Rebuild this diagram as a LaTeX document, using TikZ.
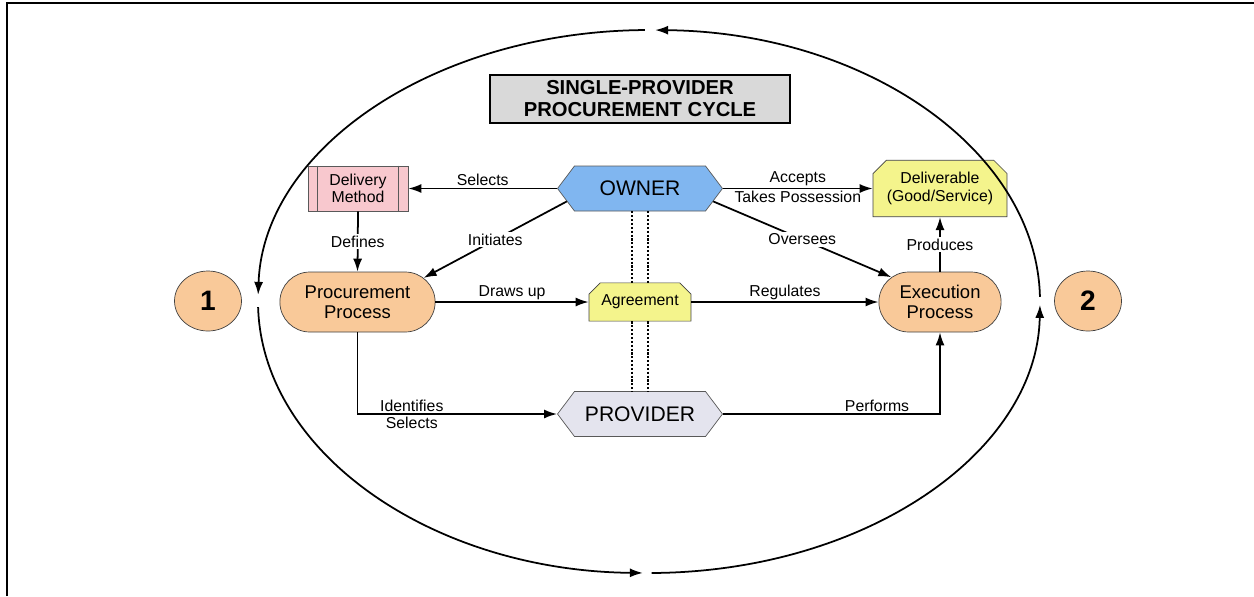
\documentclass[tikz,border=0pt]{standalone}
\usepackage{fontspec}
\setmainfont{Liberation Sans}
\usepackage{xcolor}
\usetikzlibrary{shapes,arrows.meta}
\definecolor{peach}{RGB}{249,201,153}
\definecolor{skyblue}{RGB}{128,182,240}
\definecolor{lemon}{RGB}{244,244,140}
\definecolor{blush}{RGB}{248,200,206}
\definecolor{lavender}{RGB}{228,228,238}
\definecolor{titlegray}{RGB}{217,217,217}

\begin{document}
\begin{tikzpicture}[x=0.02cm, y=0.02cm, >={Latex[length=2.6mm,width=1.8mm]},
  lbl/.style={font=\fontsize{9}{10}\selectfont, inner sep=1pt},
  flow/.style={line width=1pt, ->},
  procbox/.style={rounded rectangle, draw=black!75, fill=peach, minimum height=1.2cm, align=center, font=\fontsize{10.5}{11.5}\selectfont},
  hexbox/.style={signal, signal to=east and west, signal pointer angle=106, draw=black!65, minimum width=3.3cm, minimum height=0.9cm, font=\fontsize{12}{14}\selectfont},
  notebox/.style={chamfered rectangle, chamfered rectangle corners={north west,north east}, draw=black!75, fill=lemon, align=center, font=\fontsize{9}{10}\selectfont},
  numcirc/.style={ellipse, draw=black!75, fill=peach, minimum width=1.34cm, minimum height=1.2cm, font=\bfseries\fontsize{16}{18}\selectfont}]
\useasboundingbox (0,0) rectangle (1254,-596);
\draw[line width=1.1pt] (7,-596) -- (7,-3) -- (1254,-3);
\node[draw, line width=1.1pt, fill=titlegray, minimum width=6cm, minimum height=0.92cm, align=center, font=\bfseries\fontsize{11.5}{12.5}\selectfont] (title) at (640,-99) {SINGLE-PROVIDER\\PROCUREMENT CYCLE};
\node[draw=black!65, fill=blush, minimum width=2cm, minimum height=0.9cm, align=center, font=\fontsize{9}{10}\selectfont] (method) at (358,-188.5) {Delivery\\Method};
\draw[black!65] ([xshift=0.2cm]method.north west) -- ([xshift=0.2cm]method.south west);
\draw[black!65] ([xshift=-0.2cm]method.north east) -- ([xshift=-0.2cm]method.south east);
\node[hexbox, fill=skyblue] (owner) at (640,-188.5) {OWNER};
\node[notebox, minimum width=2.68cm, minimum height=0.94cm, chamfered rectangle xsep=0.14cm] (deliv) at (940,-188.5) {Deliverable\\(Good/Service)};
\node[procbox, minimum width=3.34cm] (procure) at (357.5,-302) {Procurement\\Process};
\node[notebox, minimum width=2.04cm, minimum height=0.6cm, chamfered rectangle xsep=0.1cm] (agree) at (640,-302) {Agreement};
\node[procbox, minimum width=2.68cm] (exec) at (940,-302) {Execution\\Process};
\node[hexbox, fill=lavender] (provider) at (640,-414) {PROVIDER};
\node[numcirc] (one) at (208,-301) {1};
\node[numcirc] (two) at (1088,-301) {2};
\draw[line width=1pt, ->] (649,-301.5) ++(1:391 and 271.5) arc[start angle=1, end angle=89.1, x radius=391, y radius=271.5];
\draw[line width=1pt, ->] (649,-301.5) ++(90.6:391 and 271.5) arc[start angle=90.6, end angle=178.6, x radius=391, y radius=271.5];
\draw[line width=1pt, ->] (649,-301.5) ++(181.2:391 and 271.5) arc[start angle=181.2, end angle=269.1, x radius=391, y radius=271.5];
\draw[line width=1pt, ->] (649,-301.5) ++(270.4:391 and 271.5) arc[start angle=270.4, end angle=359.3, x radius=391, y radius=271.5];
\draw[flow] (owner.west) -- node[lbl, above] {Selects} (method.east);
\draw[flow] (owner.east) -- node[lbl, above] {Accepts} node[lbl, below] {Takes Possession} (deliv.west);
\draw[flow] (method.south) -- node[lbl, fill=white] {Defines} (procure.north);
\draw[flow] (owner.190) -- node[lbl, fill=white] {Initiates} (procure.20);
\draw[flow] (owner.350) -- node[lbl, fill=white] {Oversees} (exec.153);
\draw[flow] (exec.north) -- node[lbl, fill=white] {Produces} (deliv.south);
\draw[flow] (procure.east) -- node[lbl, above] {Draws up} (agree.west);
\draw[flow] (agree.east) -- node[lbl, above] {Regulates} (exec.west);
\draw[flow] (procure.south) |- node[lbl, pos=0.636, above] {Identifies} node[lbl, pos=0.636, below] {Selects} (provider.west);
\draw[flow] (provider.east) -| node[lbl, pos=0.355, above] {Performs} (exec.south);
\draw[line width=1.2pt, densely dotted] ([xshift=-0.16cm]owner.south) -- ([xshift=-0.16cm]agree.north);
\draw[line width=1.2pt, densely dotted] ([xshift=0.16cm]owner.south) -- ([xshift=0.16cm]agree.north);
\draw[line width=1.2pt, densely dotted] ([xshift=-0.16cm]agree.south) -- ([xshift=-0.16cm]provider.north);
\draw[line width=1.2pt, densely dotted] ([xshift=0.16cm]agree.south) -- ([xshift=0.16cm]provider.north);
\end{tikzpicture}
\end{document}
